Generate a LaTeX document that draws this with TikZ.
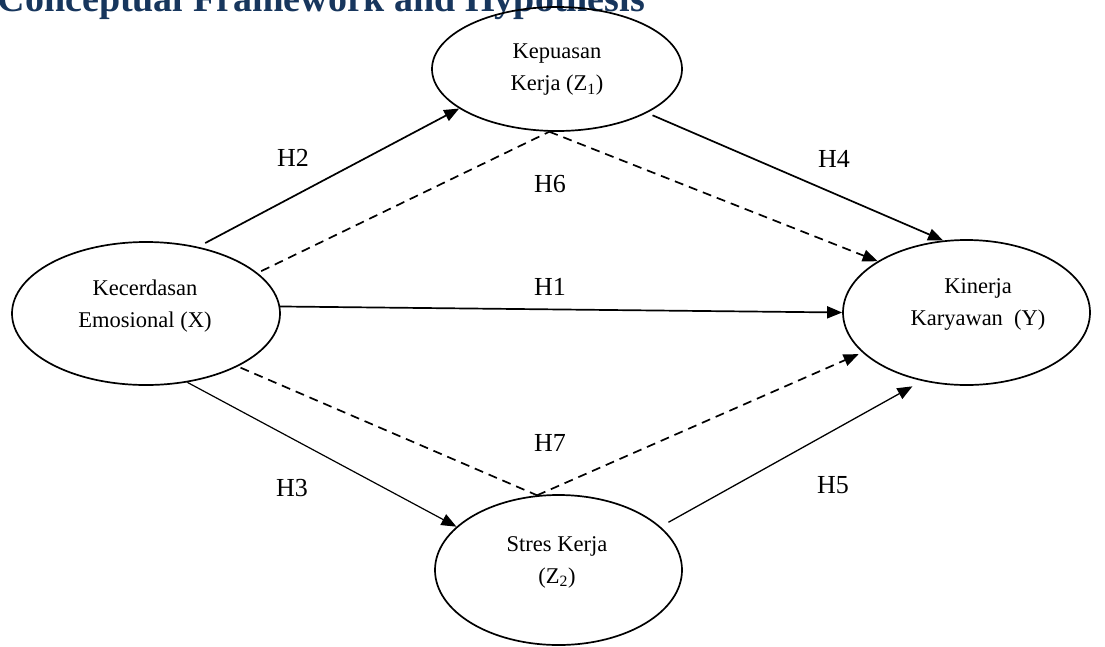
\documentclass[tikz,border=0pt]{standalone}
\usepackage{fontspec}
\setmainfont{Liberation Serif}
\usetikzlibrary{arrows.meta,shapes.geometric}
\definecolor{titleblue}{RGB}{23,54,93}
\begin{document}
\begin{tikzpicture}[x=1pt,y=-1pt,
  var/.style={draw, line width=1.7pt, ellipse, inner sep=0pt},
  vtext/.style={align=center, font=\fontsize{22.5}{32}\selectfont, inner sep=0pt},
  hlab/.style={font=\fontsize{26}{30}\selectfont, inner sep=0pt},
  conn/.style={line width=1.7pt, -{Triangle[length=15pt,width=12pt]}},
  dseg/.style={line width=1.7pt, dash pattern=on 9pt off 6pt},
  dconn/.style={conn, dash pattern=on 9pt off 6pt},
]
\fill[white] (0,0) rectangle (1105,646);
\useasboundingbox (0,0) rectangle (1105,646);

\node[anchor=base east, inner sep=0pt, font=\fontsize{38}{40}\selectfont\bfseries, text=titleblue] (title) at (645,11.5) {Conceptual Framework and Hypothesis};

\node[var, minimum width=268pt, minimum height=143pt] (X) at (146,313.5) {};
\node[var, minimum width=250pt, minimum height=124pt] (Z1) at (557,69) {};
\node[var, minimum width=247pt, minimum height=145pt] (Y) at (966.5,312.5) {};
\node[var, minimum width=247pt, minimum height=150pt] (Z2) at (558.5,570) {};

\node[vtext] (xt) at (145,306) {Kecerdasan\\Emosional (X)};
\node[vtext] (z1t) at (557,70) {Kepuasan\\Kerja (Z\textsubscript{1})};
\node[vtext] (yt) at (978,304) {Kinerja\\Karyawan\ \ (Y)};
\node[vtext] (z2t) at (557,562) {Stres Kerja\\(Z\textsubscript{2})};

\draw[conn, shorten <=8pt] (X.52.5) -- (Z1.202.9);
\draw[dseg, shorten <=4pt] (X.20.7) -- (Z1.263);
\draw[dconn] (Z1.263) -- (Y.150.2);
\draw[conn, shorten <=6pt] (Z1.334.2) -- (Y.108.4);
\draw[conn] (X.3.5) -- (Y.180);
\draw[conn, line width=1.2pt] (X.301.3) -- (Z2.157.7);
\draw[dseg, shorten <=3pt] (X.330.1) -- (Z2.106.4);
\draw[dconn, shorten >=4pt] (Z2.106.4) -- (Y.201.8);
\draw[conn, line width=1.3pt, shorten <=9pt, shorten >=11pt] (Z2.23.9) -- (Y.237.4);

\node[hlab] (h1) at (550,287) {H1};
\node[hlab] (h2) at (293,158) {H2};
\node[hlab] (h3) at (292,488) {H3};
\node[hlab] (h4) at (834,159) {H4};
\node[hlab] (h5) at (833,485) {H5};
\node[hlab] (h6) at (550,184) {H6};
\node[hlab] (h7) at (550,443) {H7};
\end{tikzpicture}
\end{document}
